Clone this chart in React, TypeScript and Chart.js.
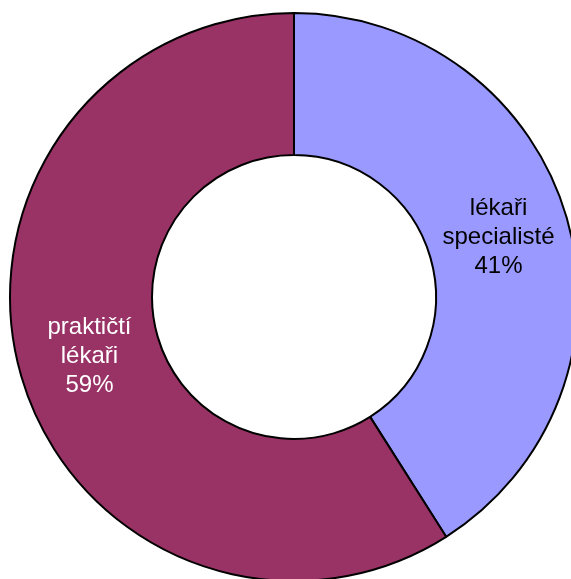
import React, { useEffect, useRef } from "react";
import { Chart, registerables } from "chart.js";

Chart.register(...registerables);

const categories = ["lékaři specialisté", "praktičtí lékaři"];
const labelLines = [
  ["lékaři", "specialisté", "41%"],
  ["praktičtí", "lékaři", "59%"],
];
const values = [41, 59];
const colors = ["#9999FF", "#993366"];
const labelColors = ["#000000", "#FFFFFF"];

const labelPlugin = {
  id: "sliceLabels",
  afterDatasetsDraw(chart: any) {
    const meta = chart.getDatasetMeta(0);
    const ctx = chart.ctx;
    ctx.save();
    ctx.font = "24px 'Liberation Sans', Arial, sans-serif";
    ctx.textAlign = "center";
    ctx.textBaseline = "middle";
    const lh = 29;
    meta.data.forEach((arc: any, i: number) => {
      const { x, y, startAngle, endAngle, innerRadius, outerRadius } = arc.getProps(
        ["x", "y", "startAngle", "endAngle", "innerRadius", "outerRadius"],
        true
      );
      const mid = (startAngle + endAngle) / 2;
      const r = (innerRadius + outerRadius) / 2;
      const cx = x + Math.cos(mid) * r;
      const cy = y + Math.sin(mid) * r;
      const lines = labelLines[i];
      ctx.fillStyle = labelColors[i];
      lines.forEach((t, k) => {
        ctx.fillText(t, cx, cy + (k - (lines.length - 1) / 2) * lh);
      });
    });
    ctx.restore();
  },
};

export default function App() {
  const ref = useRef<HTMLCanvasElement | null>(null);
  useEffect(() => {
    if (!ref.current) return;
    const chart = new Chart(ref.current, {
      type: "doughnut",
      data: {
        labels: categories,
        datasets: [
          {
            data: values,
            backgroundColor: colors,
            borderColor: "#000000",
            borderWidth: 2,
            hoverOffset: 0,
          },
        ],
      },
      options: {
        responsive: false,
        animation: false,
        events: [],
        cutout: "50%",
        layout: { padding: 9 },
        plugins: {
          legend: { display: false },
          tooltip: { enabled: false },
        },
      },
      plugins: [labelPlugin],
    });
    return () => chart.destroy();
  }, []);
  return (
    <div
      style={{
        position: "fixed",
        left: 0,
        top: 0,
        width: 571,
        height: 579,
        overflow: "hidden",
        background: "#FFFFFF",
      }}
    >
      <canvas
        ref={ref}
        width={588}
        height={594}
        style={{ position: "absolute", left: 0, top: 0, width: 588, height: 594 }}
      />
    </div>
  );
}
